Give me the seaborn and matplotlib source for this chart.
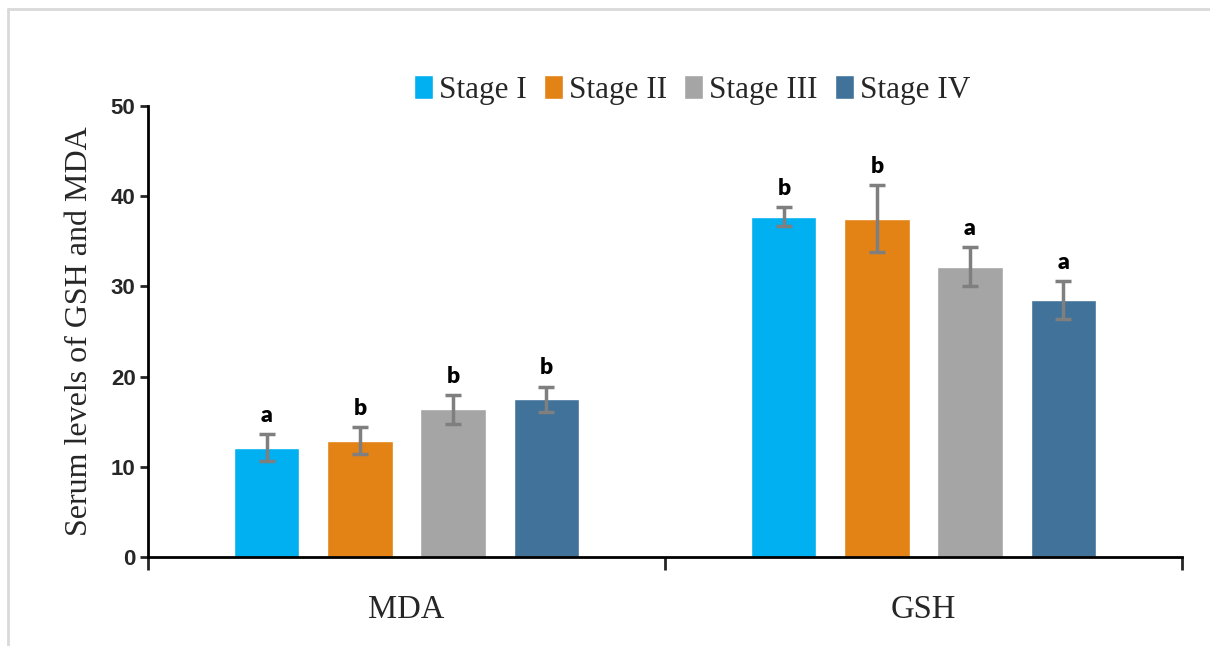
import matplotlib
matplotlib.use("Agg")
import matplotlib.pyplot as plt
from matplotlib.lines import Line2D
import seaborn as sns
import pandas as pd

# Serum oxidative-stress markers by cancer stage
markers = ["MDA", "GSH"]
stages = ["Stage I", "Stage II", "Stage III", "Stage IV"]
mda_mean = [12.1, 12.9, 16.4, 17.5]
mda_sd = [1.5, 1.5, 1.6, 1.4]
gsh_mean = [37.7, 37.5, 32.2, 28.5]
gsh_sd = [1.05, 3.7, 2.2, 2.1]
mda_letters = ["a", "b", "b", "b"]
gsh_letters = ["b", "b", "a", "a"]

colors = ["#00B0F0", "#E38215", "#A5A5A5", "#41729A"]

rows = []
for m, means, sds, lets in [("MDA", mda_mean, mda_sd, mda_letters),
                             ("GSH", gsh_mean, gsh_sd, gsh_letters)]:
    for s, v, e, l in zip(stages, means, sds, lets):
        rows.append({"marker": m, "stage": s, "value": v, "sd": e, "letter": l})
df = pd.DataFrame(rows)

sns.set_theme(style="white")
fig = plt.figure(figsize=(12.1, 6.46), dpi=100)
ax = fig.add_axes([148 / 1210, 1 - 557 / 646, (1182 - 148) / 1210, (557 - 106) / 646])

sns.barplot(data=df, x="marker", y="value", hue="stage", order=markers,
            hue_order=stages, palette=colors, errorbar=None, width=0.72,
            gap=0.3, saturation=1, ax=ax, legend=True)

# error bars and significance letters on each bar
for container, stage in zip(ax.containers, stages):
    sub = df[df["stage"] == stage].set_index("marker").loc[markers]
    for patch, (_, r) in zip(container.patches, sub.iterrows()):
        cx = patch.get_x() + patch.get_width() / 2
        h = patch.get_height()
        ax.errorbar(cx, h, yerr=r["sd"], color="#7F7F7F", elinewidth=2.5,
                    capsize=6, capthick=2.5, zorder=5)
        ax.text(cx, h + r["sd"] + 0.9, r["letter"], ha="center", va="bottom",
                fontsize=16.5, fontweight="heavy", family=["Lato", "DejaVu Sans"],
                color="black")

ax.set_ylim(0, 50)
ax.set_xlim(-0.5, 1.5)
ax.set_yticks([0, 10, 20, 30, 40, 50])
ax.tick_params(axis="y", which="major", direction="out", length=6, width=2,
               left=True, labelsize=16, pad=3)
for lab in ax.get_yticklabels():
    lab.set_fontweight("bold")
    lab.set_family("Liberation Sans")

# category labels centred, tick marks at category boundaries
ax.set_xticks([0, 1])
ax.set_xticklabels(markers, family="Liberation Serif", fontsize=23.5)
ax.set_xticks([-0.5, 0.5, 1.5], minor=True)
ax.tick_params(axis="x", which="major", length=0, pad=27)
ax.tick_params(axis="x", which="minor", direction="out", length=9, width=2, bottom=True)

ax.set_xlabel("")
ax.set_ylabel("Serum levels of GSH and MDA", family="Liberation Serif", fontsize=23,
              labelpad=12)

for side in ["top", "right"]:
    ax.spines[side].set_visible(False)
for side in ["left", "bottom"]:
    ax.spines[side].set_color("black")
    ax.spines[side].set_linewidth(2)

handles, labels = ax.get_legend_handles_labels()
ax.legend(handles, labels, loc="center", bbox_to_anchor=(692 / 1210, 1 - 90 / 646),
          bbox_transform=fig.transFigure, ncol=4, frameon=False,
          prop={"family": "Liberation Serif", "size": 22.5},
          handlelength=0.6, handleheight=0.8, handletextpad=0.2, columnspacing=0.55)

# light outer frame (top and left edges)
top_y = 1 - 9 / 646
left_x = 8 / 1210
fig.add_artist(Line2D([left_x, 1.0], [top_y, top_y], transform=fig.transFigure,
                      color="#D9D9D9", linewidth=2))
fig.add_artist(Line2D([left_x, left_x], [0.0, top_y], transform=fig.transFigure,
                      color="#D9D9D9", linewidth=2))

fig.savefig("out.png", dpi=100)
